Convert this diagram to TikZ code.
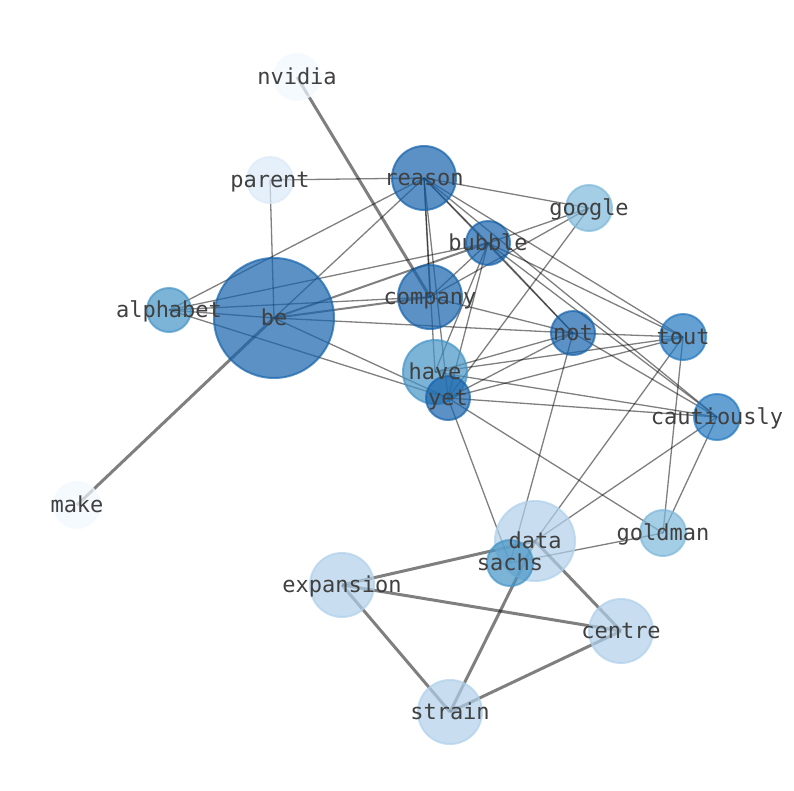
\documentclass[tikz,border=0pt]{standalone}
\usepackage{fontspec}
\setmonofont{DejaVu Sans Mono}
\usetikzlibrary{backgrounds}
\definecolor{blueA}{RGB}{22,99,171}
\definecolor{blueB}{RGB}{34,119,191}
\definecolor{blueC}{RGB}{69,148,198}
\definecolor{blueD}{RGB}{126,184,219}
\definecolor{blueE}{RGB}{176,208,234}
\definecolor{blueF}{RGB}{219,233,248}
\definecolor{blueG}{RGB}{241,248,255}
\tikzset{
  word/.style={circle, inner sep=0pt, line width=2pt, fill opacity=0.7, draw opacity=0.7},
  wordlbl/.style={anchor=base, inner sep=0pt, text=black!75, font=\ttfamily\fontsize{22}{22}\selectfont},
  tie/.style={draw=black, draw opacity=0.5, line width=1.3pt},
  tiemid/.style={tie, line width=2pt},
  tiebig/.style={tie, line width=3pt}
}

\begin{document}
\begin{tikzpicture}[x=1pt, y=-1pt]
\useasboundingbox (0,0) rectangle (794,790);
\foreach \n/\x/\y/\r/\c in {nvidia/297/77/23/blueG, parent/270/180/23/blueF,
  reason/424/178/32/blueA, google/589/208/23/blueD, bubble/488/243/22/blueA,
  company/430/297/32/blueA, alphabet/169/310/22/blueC, be/274/318/60/blueA,
  not/573/333/22/blueA, tout/683/337/23/blueB, have/435/372/32/blueC,
  yet/448/398/22/blueA, cautiously/717/417/23/blueB, make/77/505/23/blueG,
  data/535/541/40/blueE, goldman/663/533/23/blueD, sachs/510/563/23/blueC,
  expansion/342/585/32/blueE, centre/621/631/32/blueE, strain/450/712/32/blueE}
  \node[word, minimum size={2*\r pt}, fill=\c, draw=\c] (\n) at (\x,\y) {};

\begin{scope}[on background layer]
\foreach \a/\b in {parent/reason, parent/be, alphabet/reason, alphabet/bubble,
  alphabet/company, alphabet/be, alphabet/yet, be/reason, be/not, be/yet,
  reason/google, reason/bubble, reason/company, reason/have, reason/yet,
  reason/not, reason/tout, reason/cautiously, google/bubble, google/company,
  google/yet, bubble/company, bubble/have, bubble/yet, bubble/not, bubble/tout,
  bubble/cautiously, company/not, not/tout, not/have, not/yet, not/cautiously,
  not/sachs, tout/have, tout/yet, tout/data, tout/goldman, have/cautiously,
  yet/cautiously, cautiously/data, cautiously/goldman, yet/sachs, yet/goldman,
  goldman/sachs}
  \draw[tie] (\a.center) -- (\b.center);
\foreach \a/\b in {be/company, be/bubble}
  \draw[tiemid] (\a.center) -- (\b.center);
\foreach \a/\b in {nvidia/company, make/be, expansion/data, expansion/centre,
  expansion/strain, data/centre, data/strain, centre/strain}
  \draw[tiebig] (\a.center) -- (\b.center);
\end{scope}

\foreach \n in {nvidia, parent, reason, google, bubble, company, alphabet, be,
  not, tout, have, yet, cautiously, make, data, goldman, sachs, expansion,
  centre, strain}
  \node[wordlbl] (\n-lbl) at ([yshift=-7pt]\n.center) {\n};
\end{tikzpicture}
\end{document}
